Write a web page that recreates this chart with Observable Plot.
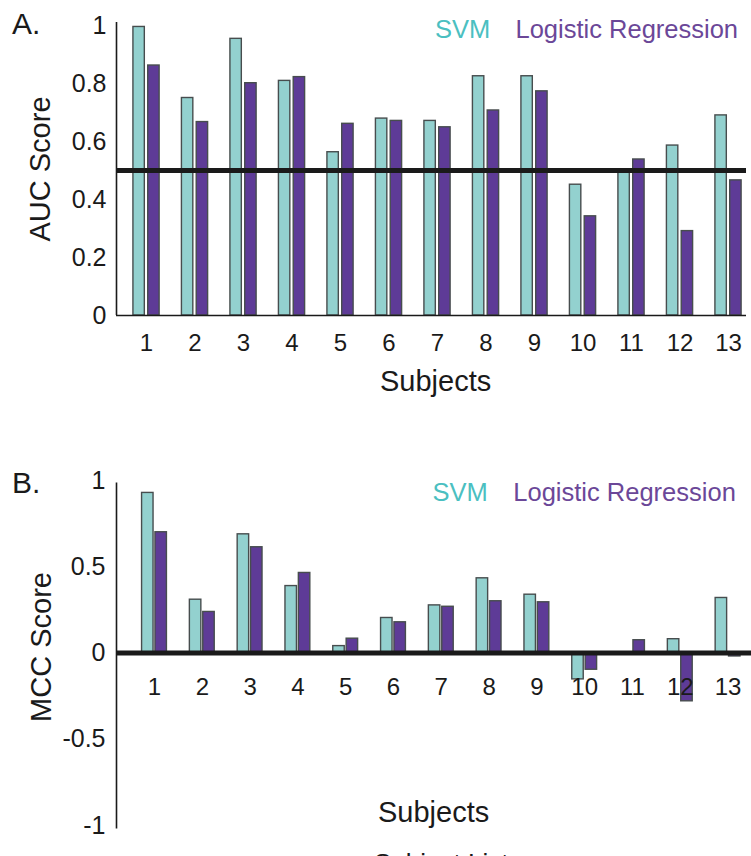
<!DOCTYPE html>
<html>
<head>
<meta charset="utf-8">
<script src="https://cdn.jsdelivr.net/npm/d3@7"></script>
<script src="https://cdn.jsdelivr.net/npm/@observablehq/plot@0.6"></script>
<style>
  html, body { margin: 0; padding: 0; background: #fff; overflow: hidden; }
  #root { position: relative; width: 751px; height: 856px; overflow: hidden;
          font-family: "Liberation Sans", Arial, Helvetica, sans-serif; color: #1a1a1a; }
  .abs { position: absolute; white-space: nowrap; line-height: 1; }
  .rot { transform: translate(-50%, -50%) rotate(-90deg); }
</style>
</head>
<body>
<div id="root"></div>
<script>
// ---- data ----
const subjects = [1, 2, 3, 4, 5, 6, 7, 8, 9, 10, 11, 12, 13];
const seriesNames = ["SVM", "Logistic Regression"];
const aucSVM = [0.995, 0.75, 0.954, 0.809, 0.563, 0.679, 0.671, 0.825, 0.825, 0.451, 0.50, 0.586, 0.69];
const aucLR  = [0.862, 0.667, 0.801, 0.822, 0.661, 0.671, 0.649, 0.707, 0.773, 0.342, 0.538, 0.291, 0.466];
const mccSVM = [0.928, 0.309, 0.688, 0.388, 0.04, 0.203, 0.276, 0.433, 0.338, -0.153, 0.0, 0.08, 0.319];
const mccLR  = [0.70, 0.238, 0.613, 0.464, 0.083, 0.178, 0.268, 0.30, 0.294, -0.097, 0.074, -0.28, -0.02];
const aucTicks = [0, 0.2, 0.4, 0.6, 0.8, 1];
const mccTicks = [-1, -0.5, 0, 0.5, 1];
const aucChance = 0.5;
const mccChance = 0;

// ---- styles ----
const svmFill = "#93d1cf", lrFill = "#5e3b97", barStroke = "#474d4e";
const svmText = "#4bbfc1", lrText = "#6b4798";
const font = '"Liberation Sans", Arial, Helvetica, sans-serif';

function rows(vals, lo, hi) {
  return subjects.map((s, i) => ({s, v: vals[i], x1: s + lo, x2: s + hi}));
}

const root = document.getElementById("root");

// ---- Panel A ----
const xDomA = [0.381, 13.371];
const plotA = Plot.plot({
  width: 751, height: 400,
  marginLeft: 116, marginRight: 5, marginTop: 25, marginBottom: 85,
  style: {fontFamily: font, color: "#1a1a1a", background: "transparent", overflow: "visible"},
  x: {type: "linear", domain: xDomA},
  y: {domain: [0, 1]},
  marks: [
    Plot.rect(rows(aucSVM, -0.27, -0.035), {x1: "x1", x2: "x2", y1: 0, y2: "v", fill: svmFill, stroke: barStroke, strokeWidth: 1.4}),
    Plot.rect(rows(aucLR, 0.035, 0.27), {x1: "x1", x2: "x2", y1: 0, y2: "v", fill: lrFill, stroke: barStroke, strokeWidth: 1.4}),
    Plot.ruleY([0], {stroke: "#1a1a1a", strokeWidth: 1.6}),
    Plot.ruleX([xDomA[0]], {y1: 0, y2: 1.01, stroke: "#1a1a1a", strokeWidth: 1.6}),
    Plot.ruleY([aucChance], {stroke: "#1a1a1a", strokeWidth: 5}),
    Plot.axisY({ticks: aucTicks, tickSize: 0, tickPadding: 10, fontSize: 25, tickFormat: d => String(d), label: null}),
    Plot.axisX({ticks: subjects, tickSize: 0, tickPadding: 18, fontSize: 24, tickFormat: d => String(d), label: null})
  ]
});
const wrapA = document.createElement("div");
wrapA.className = "abs"; wrapA.style.left = "0px"; wrapA.style.top = "0px";
wrapA.appendChild(plotA);
root.appendChild(wrapA);

// ---- Panel B ----
const xDomB = [0.205, 13.49];
const plotB = Plot.plot({
  width: 751, height: 426,
  marginLeft: 116, marginRight: 0, marginTop: 50, marginBottom: 31,
  style: {fontFamily: font, color: "#1a1a1a", background: "transparent", overflow: "visible"},
  x: {type: "linear", domain: xDomB, axis: null},
  y: {domain: [-1, 1]},
  marks: [
    Plot.rect(rows(mccSVM, -0.26, -0.02), {x1: "x1", x2: "x2", y1: 0, y2: "v", fill: svmFill, stroke: barStroke, strokeWidth: 1.4}),
    Plot.rect(rows(mccLR, 0.02, 0.26), {x1: "x1", x2: "x2", y1: 0, y2: "v", fill: lrFill, stroke: barStroke, strokeWidth: 1.4}),
    Plot.ruleX([xDomB[0]], {y1: -1.02, y2: 0.985, stroke: "#1a1a1a", strokeWidth: 1.6}),
    Plot.ruleY([mccChance], {stroke: "#1a1a1a", strokeWidth: 5}),
    Plot.text(subjects, {x: d => d, y: 0, dy: 34, text: d => String(d), fontSize: 24, fill: "#1a1a1a"}),
    Plot.axisY({ticks: mccTicks, tickSize: 0, tickPadding: 11, fontSize: 25, tickFormat: d => String(d), label: null})
  ]
});
const wrapB = document.createElement("div");
wrapB.className = "abs"; wrapB.style.left = "0px"; wrapB.style.top = "430px";
wrapB.appendChild(plotB);
root.appendChild(wrapB);

// ---- text annotations ----
function addText(txt, left, top, size, color, extra) {
  const d = document.createElement("div");
  d.className = "abs" + (extra ? " " + extra : "");
  d.textContent = txt;
  d.style.left = left + "px"; d.style.top = top + "px";
  d.style.fontSize = size + "px"; d.style.color = color;
  root.appendChild(d);
  return d;
}
addText("A.", 12, 8.5, 30, "#1a1a1a");
addText("B.", 12, 467.8, 30, "#1a1a1a");
addText(seriesNames[0], 435, 16.5, 25.5, svmText);
addText(seriesNames[1], 515.5, 16.5, 25.5, lrText);
addText(seriesNames[0], 432.5, 479.5, 25.5, svmText);
addText(seriesNames[1], 513.3, 479.5, 25.5, lrText);
addText("Subjects", 380, 366.8, 29, "#1a1a1a");
addText("Subjects", 378, 797.8, 29, "#1a1a1a");
addText("Subject List", 374, 850, 26, "#1a1a1a");
addText("AUC Score", 40, 169, 29, "#1a1a1a", "rot");
addText("MCC Score", 41, 646.7, 29, "#1a1a1a", "rot");
</script>
</body>
</html>
